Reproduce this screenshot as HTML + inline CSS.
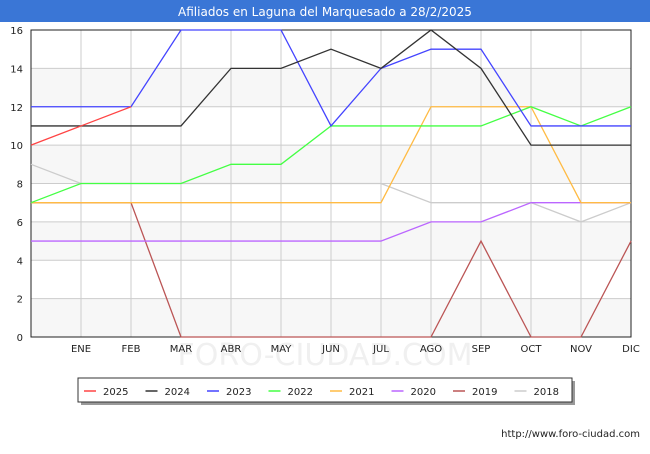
<!DOCTYPE html>
<html><head><meta charset="utf-8"><style>
body{margin:0;width:650px;height:450px;background:#fff;font-family:"DejaVu Sans","Liberation Sans",sans-serif;overflow:hidden}
</style></head><body>
<svg width="650" height="450" id="svg" font-family="DejaVu Sans, Liberation Sans, sans-serif">
<rect x="0" y="0" width="650" height="22" fill="#3a76d6"/>
<text x="325" y="16" fill="#fff" font-size="12" text-anchor="middle">Afiliados en Laguna del Marquesado a 28/2/2025</text>
<g id="bands"></g><g id="grid"></g>
<text x="325" y="365" fill="#f0f0f0" font-size="30" text-anchor="middle">FORO-CIUDAD.COM</text>
<rect x="31" y="30" width="600" height="307" fill="none" stroke="#222" stroke-width="1"/>
<g id="series"></g><g id="axes"></g>
<rect x="81" y="381" width="494" height="24" fill="#999"/>
<rect x="78" y="378" width="494" height="24" fill="#fff" stroke="#333"/>
<g id="legend"></g>
<text x="640" y="437" font-size="10" text-anchor="end" fill="#222">http://www.foro-ciudad.com</text>
</svg>
<script>
const categories=["","ENE","FEB","MAR","ABR","MAY","JUN","JUL","AGO","SEP","OCT","NOV","DIC"];
const yTicks=[0,2,4,6,8,10,12,14,16];
const seriesNames=["2025","2024","2023","2022","2021","2020","2019","2018"];
const seriesColors=["#ff4444","#333333","#4444ff","#44ff44","#ffbb44","#bb66ff","#bb5555","#cccccc"];
const s2025=[10,11,12];
const s2024=[11,11,11,11,14,14,15,14,16,14,10,10,10];
const s2023=[12,12,12,16,16,16,11,14,15,15,11,11,11];
const s2022=[7,8,8,8,9,9,11,11,11,11,12,11,12];
const s2021=[7,7,7,7,7,7,7,7,12,12,12,7,7];
const s2020=[5,5,5,5,5,5,5,5,6,6,7,7,7];
const s2019=[7,7,7,0,0,0,0,0,0,5,0,0,5];
const s2018=[9,8,8,8,8,8,8,8,7,7,7,6,7];
const seriesData=[s2025,s2024,s2023,s2022,s2021,s2020,s2019,s2018];
const NS="http://www.w3.org/2000/svg";
const X0=31,X1=631,Y0=337,Y1=30;
const xs=i=>X0+i*(X1-X0)/(categories.length-1);
const ys=v=>Y0-(v-0)*(Y0-Y1)/16;
function mk(t,a,p){const e=document.createElementNS(NS,t);for(const k in a)e.setAttribute(k,a[k]);document.getElementById(p).appendChild(e);return e;}
for(let i=0;i<yTicks.length-1;i++){if(i%2===0){const r=mk('rect',{x:X0,y:ys(yTicks[i+1]),width:X1-X0,height:ys(yTicks[i])-ys(yTicks[i+1]),fill:'#f7f7f7'},'bands');

}}
yTicks.forEach(v=>{const l=mk('line',{x1:X0,x2:X1,y1:ys(v),y2:ys(v),stroke:'#ccc'},'grid');


const t=mk('text',{x:X0-8,y:ys(v)+4,'font-size':10,'text-anchor':'end',fill:'#222'},'axes');t.textContent=v;

});
categories.forEach((c,i)=>{const l=mk('line',{x1:xs(i),x2:xs(i),y1:Y1,y2:Y0,stroke:'#ccc'},'grid');


if(c){const t=mk('text',{x:xs(i),y:352,'font-size':10,'text-anchor':'middle',fill:'#222'},'axes');t.textContent=c;

}});
for(let s=seriesData.length-1;s>=0;s--){const pts=seriesData[s].map((v,i)=>xs(i)+','+ys(v)).join(' ');
const p=mk('polyline',{points:pts,fill:'none',stroke:seriesColors[s],'stroke-width':1.3},'series');

}
seriesNames.forEach((n,i)=>{const x=84+i*61.5;
const l=mk('line',{x1:x,x2:x+12,y1:391,y2:391,stroke:seriesColors[i],'stroke-width':1.5},'legend');


const t=mk('text',{x:x+19,y:395,'font-size':10,fill:'#222'},'legend');t.textContent=n;

});
</script>
</body></html>
